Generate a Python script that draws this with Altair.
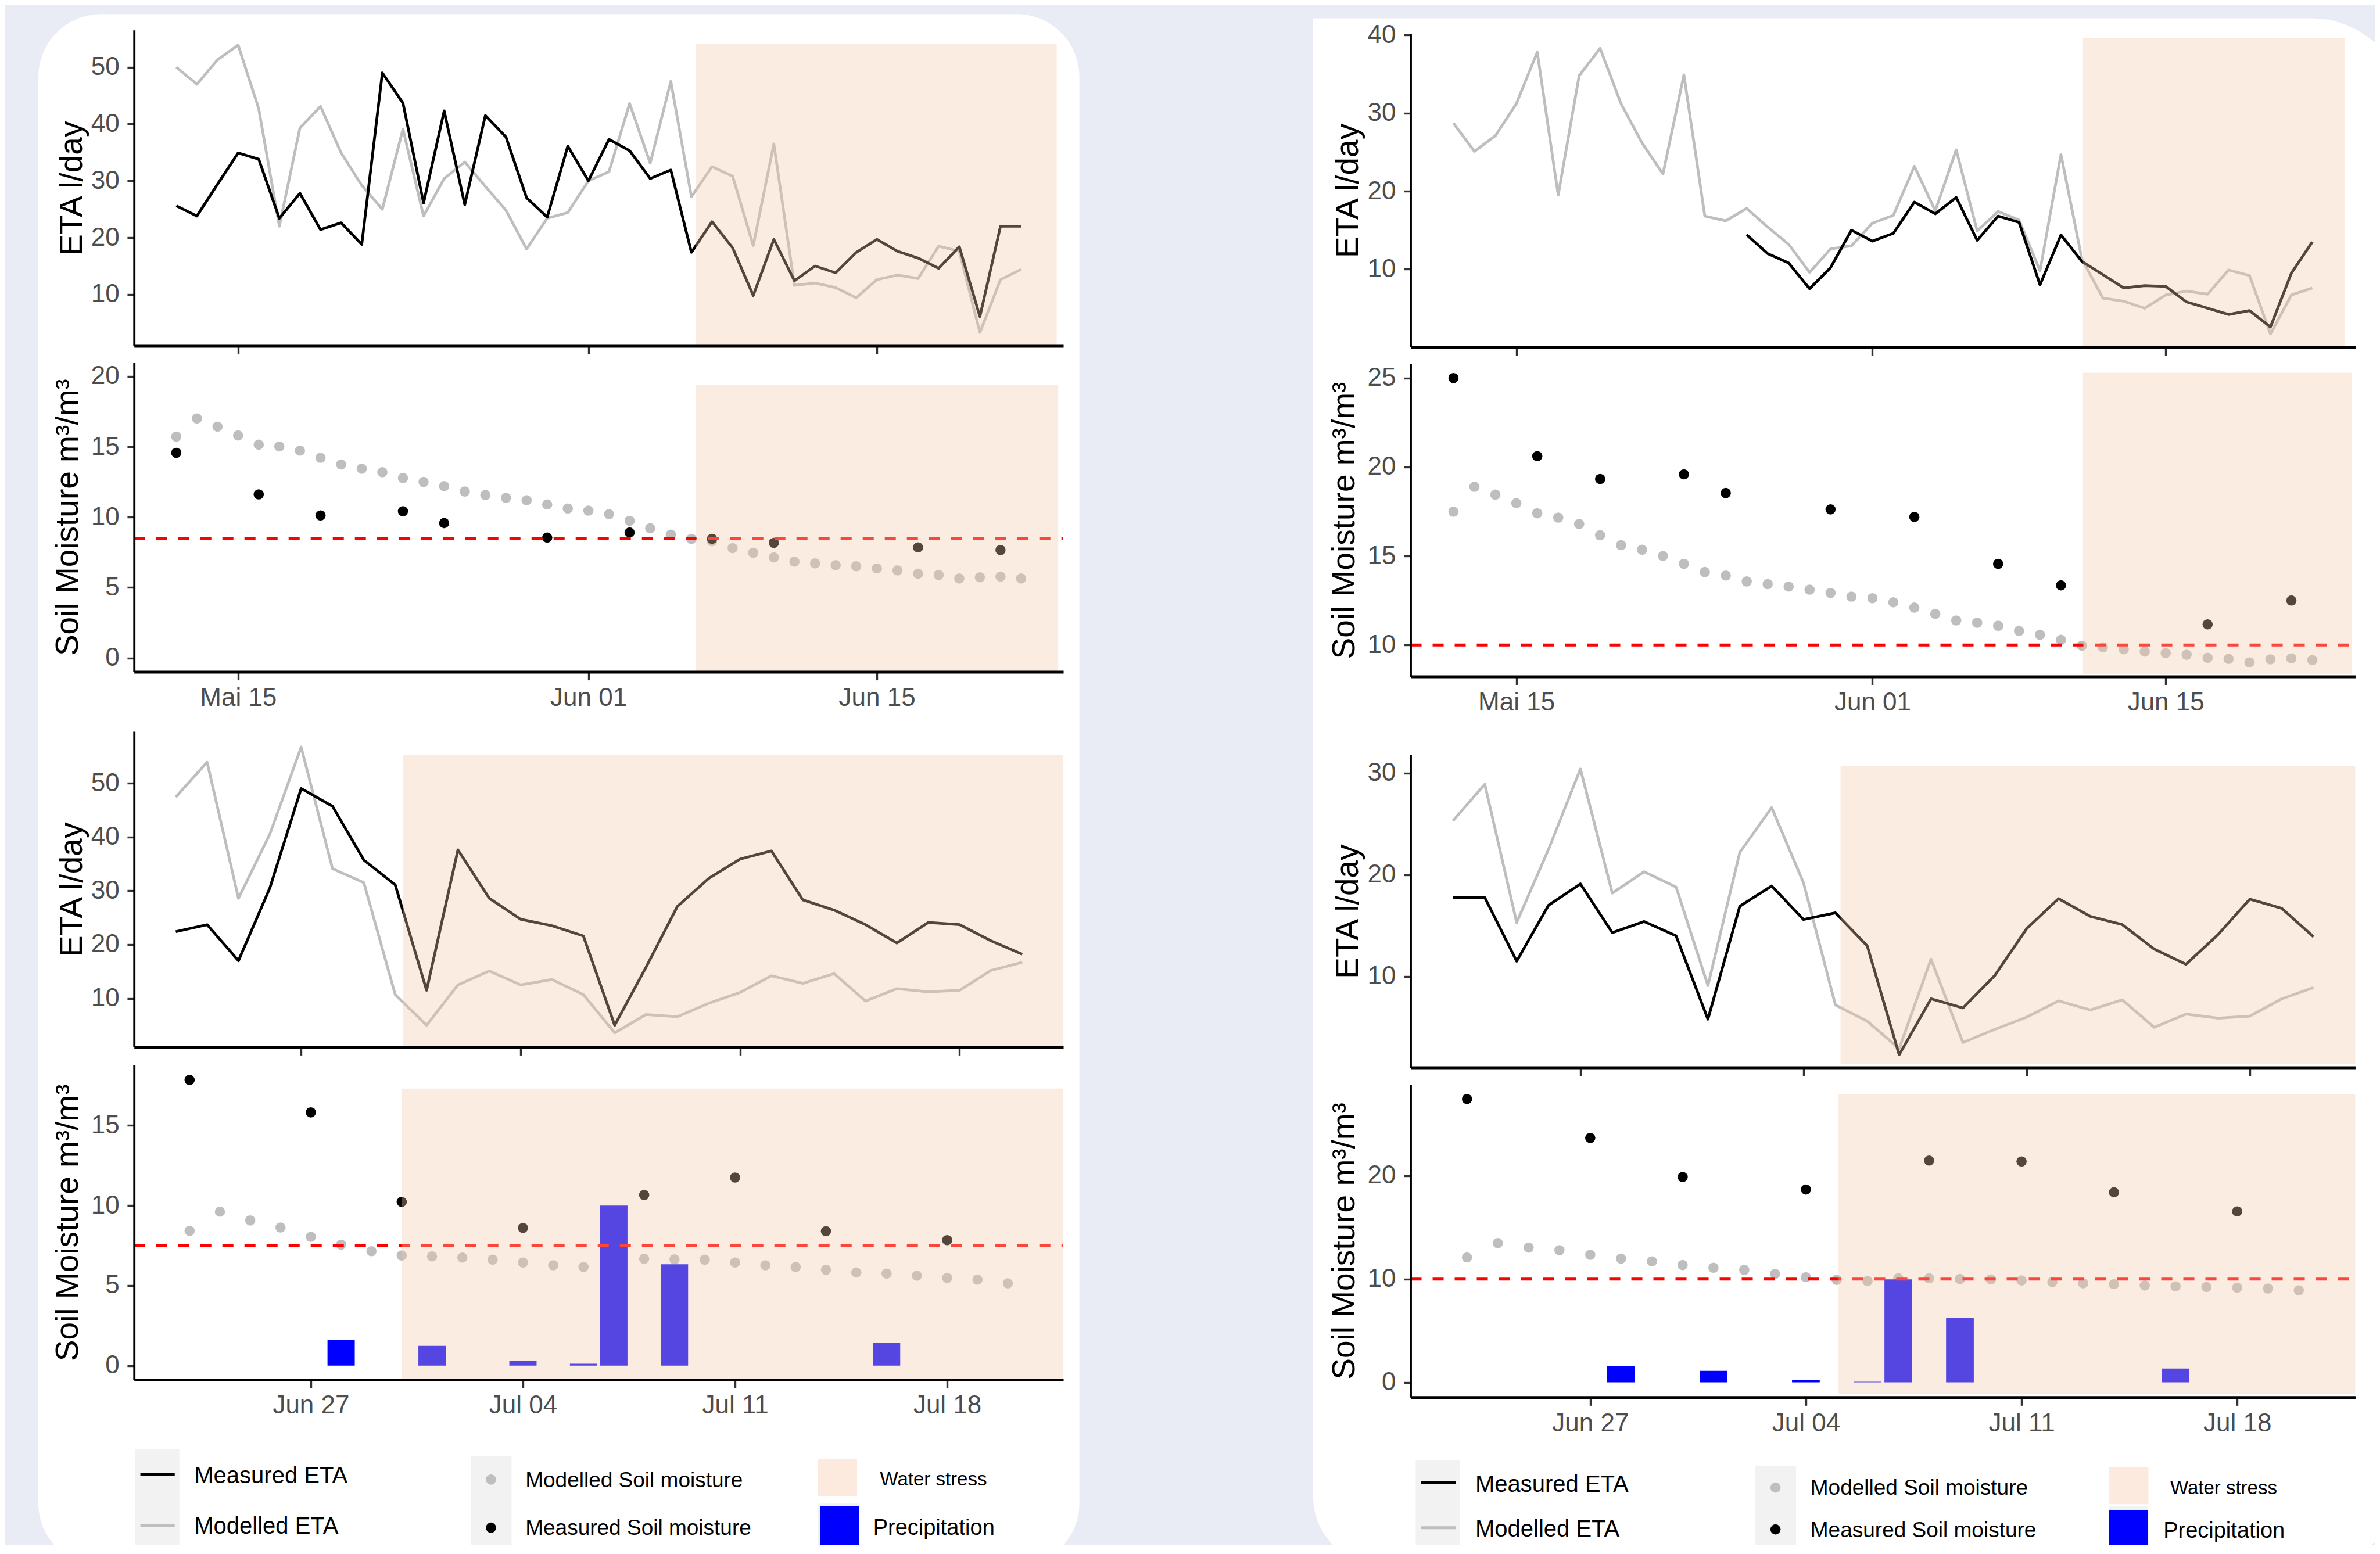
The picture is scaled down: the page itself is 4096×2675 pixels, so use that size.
import altair as alt
import pandas as pd

S = 0.986
OFF = 8.0


def T(v):
    return v * S - OFF


YEAR = 2021
TOP_START = "2021-05-12"
BOT_START = "2021-06-23"

# ---------------- data ----------------
# Upper-left: May/June period, ETA (l/day)
L1_eta_meas = [25.6, 23.8, 29.4, 34.9, 33.8, 23.4, 27.8, 21.4, 22.6, 18.8, 49.0, 43.7, 26.1, 42.3,
               25.8, 41.5, 37.7, 27.0, 23.6, 36.1, 30.0, 37.3, 35.3, 30.4, 31.9, 17.4, 22.8, 18.2,
               9.8, 19.7, 12.4, 15.0, 13.8, 17.4, 19.7, 17.6, 16.4, 14.6, 18.4, 6.1, 22.0, 22.0]
L1_eta_mod = [50.0, 47.0, 51.3, 53.9, 42.7, 22.0, 39.3, 43.1, 34.9, 29.2, 25.0, 39.1, 23.8, 30.4,
              33.3, 29.0, 24.8, 18.0, 23.4, 24.4, 30.0, 31.6, 43.6, 33.1, 47.5, 27.2, 32.5, 30.8,
              18.6, 36.5, 11.6, 12.0, 11.2, 9.4, 12.6, 13.4, 12.8, 18.5, 17.6, 3.3, 12.6, 14.4]
L1_soil_mod = [15.72, 17.01, 16.43, 15.80, 15.15, 15.02, 14.72, 14.22, 13.74, 13.44, 13.19, 12.78,
               12.50, 12.20, 11.82, 11.57, 11.37, 11.20, 10.90, 10.62, 10.46, 10.21, 9.74, 9.21,
               8.76, 8.46, 8.30, 7.80, 7.47, 7.14, 6.84, 6.72, 6.59, 6.51, 6.36, 6.22, 5.98, 5.89,
               5.64, 5.73, 5.78, 5.64]
TOP_meas_dates = ["05-12", "05-16", "05-19", "05-23", "05-25", "05-30", "06-03", "06-07", "06-10",
                  "06-17", "06-21"]
L1_soil_meas = [14.57, 11.62, 10.12, 10.42, 9.58, 8.55, 8.91, 8.46, 8.17, 7.85, 7.67]

# Lower-left: June/July period
L2_eta_meas = [22.4, 23.7, 17.0, 30.5, 49.0, 45.7, 35.7, 31.1, 11.5, 37.6, 28.6, 24.7, 23.5, 21.6,
               5.0, 15.8, 27.1, 32.3, 35.9, 37.4, 28.3, 26.4, 23.7, 20.3, 24.1, 23.7, 20.7, 18.2]
L2_eta_mod = [47.4, 53.9, 28.6, 40.5, 56.7, 34.1, 31.5, 10.7, 5.0, 12.5, 15.1, 12.5, 13.5, 10.7,
              3.6, 7.0, 6.6, 9.1, 11.1, 14.2, 12.8, 14.6, 9.5, 11.8, 11.2, 11.5, 15.2, 16.7]
L2_soil_mod = [8.42, 9.62, 9.07, 8.63, 8.05, 7.56, 7.15, 6.88, 6.82, 6.75, 6.62, 6.44, 6.27, 6.16,
               6.70, 6.68, 6.64, 6.62, 6.44, 6.27, 6.16, 5.99, 5.82, 5.75, 5.62, 5.48, 5.37, 5.14]
BOT_meas_dates = ["06-23", "06-27", "06-30", "07-04", "07-08", "07-11", "07-14", "07-18"]
L2_soil_meas = [17.85, 15.82, 10.23, 8.60, 10.66, 11.75, 8.40, 7.84]
PRECIP_dates = ["06-28", "07-01", "07-04", "07-06", "07-07", "07-09", "07-16"]
L2_precip = [1.62, 1.23, 0.30, 0.12, 10.0, 6.33, 1.41]

# Upper-right
R1_eta_mod = [28.7, 25.1, 27.1, 31.2, 37.8, 19.5, 34.8, 38.3, 31.2, 26.2, 22.2, 34.9, 16.8, 16.2,
              17.8, 15.4, 13.2, 9.6, 12.6, 13.0, 15.9, 16.9, 23.2, 17.5, 25.3, 14.9, 17.4, 16.3,
              9.8, 24.7, 11.3, 6.3, 5.9, 5.0, 6.7, 7.2, 6.8, 9.9, 9.2, 1.7, 6.7, 7.6]
R1_eta_meas_start = "2021-05-26"
R1_eta_meas = [14.4, 12.0, 10.8, 7.5, 10.2, 15.0, 13.6, 14.6, 18.6, 17.1, 19.2, 13.7, 16.8, 16.0,
               8.0, 14.4, 11.0, 9.3, 7.6, 7.9, 7.8, 5.8, 5.0, 4.2, 4.7, 2.6, 9.5, 13.5]
R1_soil_mod = [17.49, 18.89, 18.45, 17.97, 17.40, 17.16, 16.80, 16.17, 15.61, 15.35, 15.00, 14.56,
               14.10, 13.90, 13.57, 13.42, 13.28, 13.11, 12.92, 12.72, 12.63, 12.40, 12.10, 11.75,
               11.38, 11.25, 11.08, 10.79, 10.57, 10.29, 9.96, 9.87, 9.76, 9.63, 9.54, 9.45, 9.28,
               9.22, 9.02, 9.19, 9.25, 9.15]
R1_soil_meas = [25.0, 20.61, 19.33, 19.59, 18.54, 17.62, 17.20, 14.56, 13.35, 11.16, 12.50]

# Lower-right
R2_eta_meas = [17.76, 17.76, 11.5, 17.0, 19.1, 14.3, 15.4, 14.0, 5.8, 16.9, 18.9, 15.6, 16.25, 13.0,
               2.3, 7.8, 6.9, 10.1, 14.7, 17.65, 15.9, 15.1, 12.7, 11.2, 14.1, 17.6, 16.7, 13.9]
R2_eta_mod = [25.3, 28.9, 15.3, 22.5, 30.4, 18.2, 20.3, 18.8, 9.1, 22.2, 26.6, 19.2, 7.2, 5.6,
              2.9, 11.7, 3.5, 4.8, 6.0, 7.6, 6.7, 7.7, 5.0, 6.3, 5.9, 6.1, 7.8, 8.9]
R2_soil_mod = [12.09, 13.47, 13.04, 12.79, 12.34, 11.98, 11.71, 11.35, 11.09, 10.88, 10.50, 10.18,
               9.92, 9.80, 10.07, 10.07, 10.00, 9.97, 9.86, 9.71, 9.59, 9.50, 9.37, 9.29, 9.23,
               9.16, 9.08, 8.91]
R2_soil_meas = [27.42, 23.65, 19.87, 18.66, 21.46, 21.38, 18.39, 16.54]
R2_precip = [1.55, 1.12, 0.21, 0.06, 9.96, 6.26, 1.34]

THR_L1, THR_L2, THR_R1, THR_R2 = 8.5, 7.5, 10.0, 10.0

ETA_TITLE = "ETA l/day"
SOIL_TITLE = "Soil Moisture m³/m³"
LEG_LINES = ["Measured ETA", "Modelled ETA"]
LEG_POINTS = ["Modelled Soil moisture", "Measured Soil moisture"]
LEG_FILLS = ["Water stress", "Precipitation"]

# ---------------- styles ----------------
GRAY = "#BEBEBE"
PEACH = "#F3C8AB"
PEACH_A = 0.35
PEACH_KEY = "#FCEADF"
BLUE = "#0000FF"
RED = "#FF0000"
LAV = "#E9EBF5"
KEYBG = "#F2F2F2"
FONT = "Liberation Sans"
LW = 4.7
PT = 310
W_CANVAS, H_CANVAS = 4080, 2652

one = pd.DataFrame({"k": [0]})


def days(start, n):
    return list(pd.date_range(start, periods=n, freq="D").strftime("%Y-%m-%dT00:00:00Z"))


def iso(md):
    return f"{YEAR}-{md}T00:00:00Z"


def dt(month, day):
    d = int(day)
    mins = int(round((day - d) * 1440))
    return alt.DateTime(year=YEAR, month=month, date=d, hours=mins // 60,
                        minutes=mins % 60, utc=True)


TOP_DOM = [dt(5, 9.95), dt(6, 24.05)]
BOT_ETA_DOM = [dt(6, 21.67), dt(7, 21.31)]
BOT_SOIL_DOM = [dt(6, 21.167), dt(7, 21.833)]
TOP_TICKS = [dt(5, 15), dt(6, 1), dt(6, 15)]
BOT_TICKS = [dt(6, 27), dt(7, 4), dt(7, 11), dt(7, 18)]


def panel(box, xdom, xticks, xlabels, ydom, yticks, ytitle, tpad, rect,
          line_mod=None, line_meas=None, pts_mod=None, pts_meas=None, thr=None, precip=None):
    """One sub-plot placed inside the common canvas through its own scale ranges."""
    px0, px1, pyt, pyb = (T(v) for v in box)
    xs = alt.Scale(type="utc", domain=xdom, range=[px0, px1], nice=False)
    ys = alt.Scale(domain=ydom, range=[pyb, pyt], nice=False, zero=False)
    xk = dict(orient="bottom", offset=pyb - H_CANVAS, values=xticks, grid=False, title=None,
              domainColor="black", domainWidth=5.0, tickColor="#333333", tickWidth=3.4,
              tickSize=14, labels=xlabels, zindex=1)
    if xlabels:
        xk.update(labelExpr="replace(utcFormat(datum.value, '%b %d'), 'May', 'Mai')",
                  labelFont=FONT, labelFontSize=44, labelColor="#4D4D4D", labelPadding=9,
                  labelFlush=False, labelOverlap=False)
    xa = alt.Axis(**xk)
    ya = alt.Axis(orient="left", offset=-px0, values=yticks, grid=False, title=ytitle,
                  domainColor="black", domainWidth=3.8, tickColor="#333333", tickWidth=3.4,
                  tickSize=11.8, labelFont=FONT, labelFontSize=44, labelColor="#4D4D4D",
                  labelPadding=13.8, minExtent=76, maxExtent=76, titleFont=FONT,
                  titleFontSize=55, titleFontWeight="normal", titleColor="black",
                  titlePadding=tpad, titleBaseline="alphabetic", labelFlush=False,
                  labelOverlap=False, zindex=1)

    def X(f):
        return alt.X(f, type="temporal", scale=xs, axis=xa)

    def Y(f):
        return alt.Y(f, type="quantitative", scale=ys, axis=ya)

    layers = []
    if line_mod is not None:
        d, v = line_mod
        layers.append(alt.Chart(pd.DataFrame({"date": d, "v": v})).mark_line(
            color=GRAY, strokeWidth=LW, strokeJoin="round").encode(x=X("date"), y=Y("v")))
    if line_meas is not None:
        d, v = line_meas
        layers.append(alt.Chart(pd.DataFrame({"date": d, "v": v})).mark_line(
            color="black", strokeWidth=LW, strokeJoin="round").encode(x=X("date"), y=Y("v")))
    if pts_mod is not None:
        d, v = pts_mod
        layers.append(alt.Chart(pd.DataFrame({"date": d, "v": v})).mark_circle(
            color=GRAY, size=PT, opacity=1).encode(x=X("date"), y=Y("v")))
    if pts_meas is not None:
        d, v = pts_meas
        layers.append(alt.Chart(pd.DataFrame({"date": d, "v": v})).mark_circle(
            color="black", size=PT, opacity=1).encode(x=X("date"), y=Y("v")))
    if precip is not None:
        d, v = precip
        layers.append(alt.Chart(pd.DataFrame({"date": d, "p": v})).transform_calculate(
            x0="toDate(datum.date) - 0.45 * 86400000",
            x1="toDate(datum.date) + 0.45 * 86400000",
        ).mark_bar(color=BLUE, opacity=1).encode(
            x=X("x0"), x2=alt.X2("x1"), y=Y("p"), y2=alt.Y2Datum(0)))
    if thr is not None:
        layers.append(alt.Chart(one).mark_rule(color=RED, strokeWidth=5, strokeDash=[19, 19]).encode(
            x=alt.XDatum(xdom[0], type="temporal", scale=xs, axis=xa), x2=alt.X2Datum(xdom[1]),
            y=alt.YDatum(thr, type="quantitative", scale=ys, axis=ya)))
    x0, x1, y0, y1 = rect
    layers.append(alt.Chart(one).mark_rect(color=PEACH, opacity=PEACH_A).encode(
        x=alt.XDatum(x0, type="temporal", scale=xs, axis=xa), x2=alt.X2Datum(x1),
        y=alt.YDatum(y0, type="quantitative", scale=ys, axis=ya), y2=alt.Y2Datum(y1)))
    return alt.layer(*layers)


top_days = days(TOP_START, 42)
bot_days = days(BOT_START, 28)
top_meas = [iso(s) for s in TOP_meas_dates]
bot_meas = [iso(s) for s in BOT_meas_dates]
pr_days = [iso(s) for s in PRECIP_dates]
r1_meas_days = days(R1_eta_meas_start, len(R1_eta_meas))

ETA_PAD = 90.7 - 76
SOIL_PAD = 97.1 - 76
LX = (234, 1856)
RX = (2462, 4111)

L1E = panel((*LX, 52.6, 604), TOP_DOM, TOP_TICKS, False, [0.92, 56.53], [10, 20, 30, 40, 50],
            ETA_TITLE, ETA_PAD, (dt(6, 6.2), dt(6, 23.73), 0.92, 54.07),
            line_mod=(top_days, L1_eta_mod), line_meas=(top_days, L1_eta_meas))
L1S = panel((*LX, 632.7, 1173), TOP_DOM, TOP_TICKS, True, [-0.99, 20.99], [0, 5, 10, 15, 20],
            SOIL_TITLE, SOIL_PAD, (dt(6, 6.2), dt(6, 23.8), -0.99, 19.42),
            pts_mod=(top_days, L1_soil_mod), pts_meas=(top_meas, L1_soil_meas), thr=THR_L1)
L2E = panel((*LX, 1277, 1828), BOT_ETA_DOM, BOT_TICKS, False, [0.95, 59.6], [10, 20, 30, 40, 50],
            ETA_TITLE, ETA_PAD, (dt(6, 30.25), dt(7, 21.31), 0.95, 55.3),
            line_mod=(bot_days, L2_eta_mod), line_meas=(bot_days, L2_eta_meas))
L2S = panel((*LX, 1859.6, 2408.7), BOT_SOIL_DOM, BOT_TICKS, True, [-0.88, 18.77], [0, 5, 10, 15],
            SOIL_TITLE, SOIL_PAD, (dt(6, 30.0), dt(7, 21.833), -0.88, 17.31),
            pts_mod=(bot_days, L2_soil_mod), pts_meas=(bot_meas, L2_soil_meas),
            precip=(pr_days, L2_precip), thr=THR_L2)

R1E = panel((*RX, 59.2, 606), TOP_DOM, TOP_TICKS, False, [0.02, 40.15], [10, 20, 30, 40],
            ETA_TITLE, ETA_PAD, (dt(6, 11.05), dt(6, 23.56), 0.02, 39.64),
            line_mod=(top_days, R1_eta_mod), line_meas=(r1_meas_days, R1_eta_meas))
R1S = panel((*RX, 635.5, 1181), TOP_DOM, TOP_TICKS, True, [8.23, 25.79], [10, 15, 20, 25],
            SOIL_TITLE, SOIL_PAD, (dt(6, 11.05), dt(6, 23.9), 8.36, 25.3),
            pts_mod=(top_days, R1_soil_mod), pts_meas=(top_meas, R1_soil_meas), thr=THR_R1)
R2E = panel((*RX, 1318, 1863.6), BOT_ETA_DOM, BOT_TICKS, False, [1.05, 31.78], [10, 20, 30],
            ETA_TITLE, ETA_PAD, (dt(7, 5.16), dt(7, 21.31), 1.37, 30.69),
            line_mod=(bot_days, R2_eta_mod), line_meas=(bot_days, R2_eta_meas))
R2S = panel((*RX, 1893, 2439.5), BOT_SOIL_DOM, BOT_TICKS, True, [-1.45, 28.84], [0, 10, 20],
            SOIL_TITLE, SOIL_PAD, (dt(7, 5.06), dt(7, 21.833), -1.11, 27.89),
            pts_mod=(bot_days, R2_soil_mod), pts_meas=(bot_meas, R2_soil_meas),
            precip=(pr_days, R2_precip), thr=THR_R2)


# ---------------- background panels and hand-made legends ----------------
def box(x0, y0, x1, y1, color, **kw):
    return alt.Chart(one).mark_rect(color=color, opacity=1, **kw).encode(
        x=alt.value(T(x0)), x2=alt.value(T(x1)), y=alt.value(T(y0)), y2=alt.value(T(y1)))


def key_line(x0, x1, y, color):
    return alt.Chart(one).mark_rule(color=color, strokeWidth=5).encode(
        x=alt.value(T(x0)), x2=alt.value(T(x1)), y=alt.value(T(y)))


def key_point(x, y, color):
    return alt.Chart(one).mark_circle(color=color, size=PT, opacity=1).encode(
        x=alt.value(T(x)), y=alt.value(T(y)))


def label(x, y, txt, size):
    return alt.Chart(one).mark_text(align="left", baseline="middle", font=FONT, fontSize=size,
                                    color="black").encode(
        x=alt.value(T(x)), y=alt.value(T(y)), text=alt.value(txt))


def legend(ref):
    (s1, lk, t1x, t1y, s2, pk, t2x, t2y, ws, prs, pr, t3) = ref
    return [
        box(*s1, KEYBG),
        key_line(lk[0], lk[1], lk[2], "black"),
        key_line(lk[0], lk[1], lk[3], GRAY),
        label(t1x, t1y[0], LEG_LINES[0], 40),
        label(t1x, t1y[1], LEG_LINES[1], 40),
        box(*s2, KEYBG),
        key_point(pk[0], pk[1], GRAY),
        key_point(pk[0], pk[2], "black"),
        label(t2x, t2y[0], LEG_POINTS[0], 37),
        label(t2x, t2y[1], LEG_POINTS[1], 37),
        box(*ws, PEACH_KEY),
        box(*prs, KEYBG),
        box(*pr, BLUE),
        label(t3[0], t3[1], LEG_FILLS[0], 33),
        label(t3[2], t3[3], LEG_FILLS[1], 38),
    ]


LEFT_LEG = ((236, 2530, 313, 2703), (245, 305, 2574, 2663), 339, (2577, 2665),
            (822, 2542, 893, 2703), (857, 2583, 2667), 917, (2585, 2668),
            (1427, 2547, 1496, 2612), (1427, 2625, 1499, 2703), (1432, 2629, 1499, 2702),
            (1536, 2583, 1524, 2668))
RIGHT_LEG = ((2471, 2549, 2548, 2703), (2480, 2541, 2588, 2667), 2575, (2592, 2670),
             (3063, 2559, 3135, 2703), (3099, 2597, 2670), 3160, (2598, 2672),
             (3681, 2561, 3750, 2626), (3681, 2630, 3750, 2703), (3681, 2637, 3749, 2702),
             (3788, 2598, 3776, 2673))

bg_layers = [
    box(67, 24.5, 1884, 2734, "white", cornerRadius=108),
    box(2292, 32, 4200, 2734, "white", cornerRadiusTopRight=163, cornerRadiusBottomRight=163,
        cornerRadiusBottomLeft=120),
]
bg_layers += legend(LEFT_LEG) + legend(RIGHT_LEG)

chart = alt.layer(
    *bg_layers, L1E, L1S, L2E, L2S, R1E, R1S, R2E, R2S
).resolve_scale(
    x="independent", y="independent"
).properties(
    width=W_CANVAS, height=H_CANVAS, padding=0,
    autosize=alt.AutoSizeParams(type="none"),
).configure(background=LAV).configure_view(strokeWidth=0)

chart.save("out.html", embed_options={"renderer": "svg", "actions": False})
